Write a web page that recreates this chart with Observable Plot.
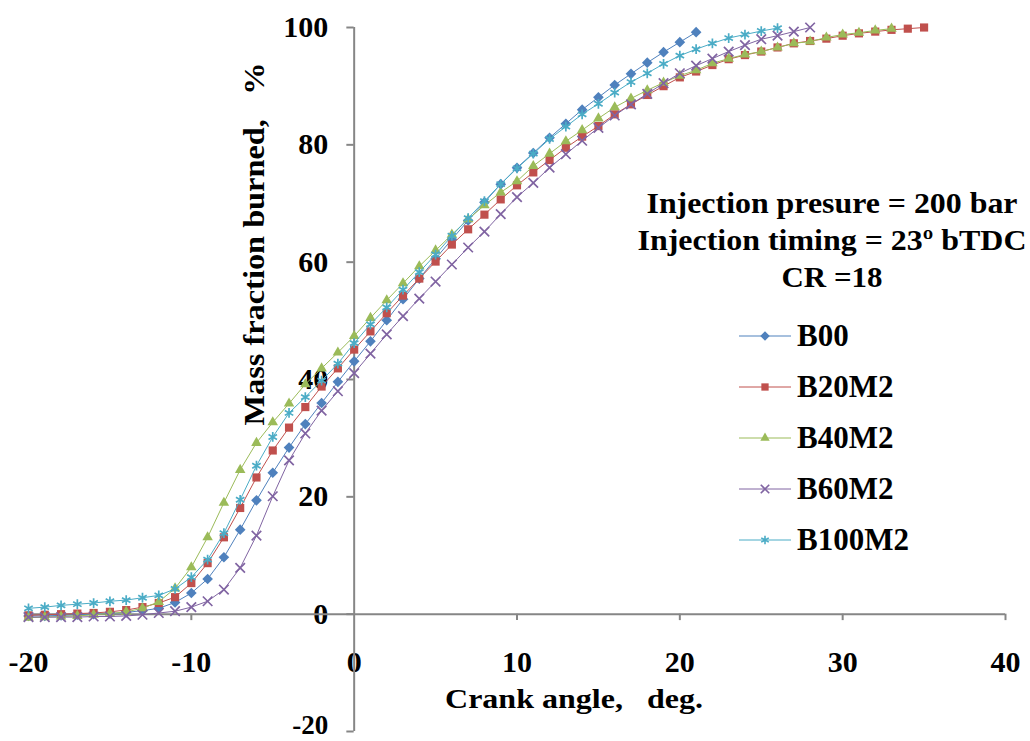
<!DOCTYPE html>
<html>
<head>
<meta charset="utf-8">
<script src="https://cdn.jsdelivr.net/npm/d3@7"></script>
<script src="https://cdn.jsdelivr.net/npm/@observablehq/plot@0.6"></script>
<style>
  body { margin: 0; background: #fff; }
  #wrap { position: relative; width: 1030px; height: 741px; overflow: hidden; }
  #wrap svg { position: absolute; left: 0; top: 0; }
  text { white-space: pre; }
</style>
</head>
<body>
<div id="wrap"></div>
<script>
// ---------------- data ----------------
const seriesNames = ["B00", "B20M2", "B40M2", "B60M2", "B100M2"];
const startAngle = -20; // first crank angle of every series, step 1 deg

const b00 = [-0.3, -0.3, -0.2, -0.1, 0.0, 0.1, 0.3, 0.6, 1.0, 2.0,
  3.6, 6.0, 9.7, 14.4, 19.4, 24.1, 28.4, 32.4, 36.0, 39.6,
  43.1, 46.5, 50.1, 53.7, 57.2, 60.6, 63.9, 67.1, 70.2, 73.3,
  76.1, 78.6, 81.2, 83.6, 86.0, 88.1, 90.2, 92.1, 94.0, 95.8,
  97.5, 99.2];
const b20m2 = [-0.2, -0.1, 0.0, 0.1, 0.2, 0.4, 0.7, 1.2, 1.9, 2.9,
  5.3, 8.7, 13.1, 18.1, 23.3, 27.9, 31.8, 35.3, 38.8, 41.9,
  45.1, 48.2, 51.3, 54.3, 57.2, 60.1, 63.0, 65.6, 68.1, 70.7,
  73.1, 75.3, 77.4, 79.5, 81.4, 83.2, 85.2, 86.9, 88.5, 90.0,
  91.5, 92.5, 93.6, 94.6, 95.3, 95.9, 96.6, 97.3, 97.7, 98.1,
  98.6, 99.0, 99.3, 99.6, 99.8, 100.0];
const b40m2 = [-0.6, -0.5, -0.4, -0.3, -0.1, 0.1, 0.4, 1.0, 2.1, 4.4,
  8.0, 13.1, 19.0, 24.6, 29.2, 32.7, 35.9, 39.2, 41.9, 44.6,
  47.4, 50.5, 53.5, 56.4, 59.3, 62.0, 64.7, 67.3, 69.7, 71.9,
  73.8, 76.4, 78.5, 80.6, 82.5, 84.5, 86.4, 87.9, 89.3, 90.6,
  91.8, 92.7, 93.9, 94.7, 95.4, 95.9, 96.6, 97.3, 97.6, 98.3,
  98.8, 99.1, 99.5, 99.8];
const b60m2 = [-0.5, -0.5, -0.5, -0.5, -0.4, -0.4, -0.3, -0.1, 0.2, 0.5,
  1.2, 2.2, 4.2, 7.9, 13.4, 20.1, 26.2, 30.8, 34.7, 38.0,
  41.1, 44.4, 47.7, 50.8, 53.8, 56.7, 59.6, 62.5, 65.2, 68.2,
  71.1, 73.5, 76.1, 78.4, 80.7, 82.9, 85.0, 86.9, 88.7, 90.5,
  92.2, 93.5, 94.7, 95.9, 97.0, 98.0, 98.6, 99.3, 100.0];
const b100m2 = [1.0, 1.2, 1.5, 1.7, 1.9, 2.2, 2.4, 2.8, 3.2, 4.3,
  6.3, 9.3, 13.8, 19.5, 25.3, 30.2, 34.3, 37.0, 39.8, 42.7,
  46.2, 49.4, 52.3, 55.3, 58.3, 61.3, 64.5, 67.5, 70.4, 73.3,
  76.0, 78.5, 81.0, 83.1, 85.2, 87.0, 88.9, 90.7, 92.2, 93.8,
  95.2, 96.3, 97.3, 98.2, 98.8, 99.4, 99.9];

const xTicks = [-20, -10, 0, 10, 20, 30, 40];
const yTicks = [-20, 0, 20, 40, 60, 80, 100];
const xTitle = "Crank angle,   deg.";
const yTitle = "Mass fraction burned,   %";
const noteLines = ["Injection presure = 200 bar", "Injection timing = 23º bTDC", "CR =18"];

// ---------------- styling ----------------
const colors = ["#4F81BD", "#C0504D", "#9BBB59", "#8064A2", "#4BACC6"];
const symbols = ["diamond2", "square", "triangle", "times", "asterisk"];
const filled = [true, true, true, false, false];
const radii = [4.8, 4.6, 3.9, 4.4, 4.6];
const font = "'Liberation Serif','Times New Roman',serif";
const axisGrey = "#868686";

const allValues = [b00, b20m2, b40m2, b60m2, b100m2];
const rows = seriesNames.flatMap((name, i) =>
  allValues[i].map((v, j) => ({ series: name, angle: startAngle + j, mfb: v })));

const seriesMarks = seriesNames.flatMap((name, i) => {
  const d = rows.filter(r => r.series === name);
  const dotOpts = filled[i]
    ? { fill: colors[i], stroke: "none" }
    : { fill: "none", stroke: colors[i], strokeWidth: 1.7 };
  return [
    Plot.line(d, { x: "angle", y: "mfb", stroke: colors[i], strokeWidth: 1 }),
    Plot.dot(d, { x: "angle", y: "mfb", symbol: () => symbols[i], r: radii[i], ...dotOpts })
  ];
});

const chart = Plot.plot({
  width: 1030, height: 741,
  marginLeft: 28, marginRight: 25, marginTop: 27, marginBottom: 10,
  x: { domain: [-20, 40], axis: null },
  y: { domain: [-20, 100], axis: null },
  symbol: { type: "identity" },
  style: { fontFamily: font, background: "white", overflow: "visible" },
  marks: [
    Plot.text(xTicks, { x: d => d, y: 0, dy: 58, lineAnchor: "bottom", text: d => String(d),
      fontSize: 30, fontWeight: "bold", fill: "#000" }),
    Plot.text(yTicks.filter(d => d > -20), { x: 0, y: d => d, dx: -26, textAnchor: "end", text: d => String(d),
      fontSize: 30, fontWeight: "bold", fill: "#000" }),
    Plot.text(yTicks.filter(d => d === -20), { x: 0, y: d => d, dx: -26, dy: 2, lineAnchor: "bottom", textAnchor: "end", text: d => String(d),
      fontSize: 27, fontWeight: "bold", fill: "#000" }),
    Plot.ruleY([0], { stroke: axisGrey, strokeWidth: 2 }),
    Plot.ruleX([0], { stroke: axisGrey, strokeWidth: 2 }),
    Plot.ruleX(xTicks.filter(d => d !== 0), { x: d => d, y1: 0, y2: -1.1, stroke: axisGrey, strokeWidth: 2 }),
    Plot.ruleY(yTicks, { y: d => d, x1: -0.45, x2: 0, stroke: axisGrey, strokeWidth: 2 }),
    ...seriesMarks
  ]
});

const wrap = document.getElementById("wrap");
wrap.appendChild(chart);

// ---------------- overlay: titles, note, legend ----------------
const ov = d3.select(wrap).append("svg")
  .attr("width", 1030).attr("height", 741)
  .style("pointer-events", "none")
  .attr("font-family", font).attr("font-weight", "bold").attr("fill", "#000");

ov.append("text").attr("x", 574).attr("y", 708).attr("text-anchor", "middle")
  .attr("font-size", 28).attr("textLength", 258).attr("lengthAdjust", "spacingAndGlyphs").text(xTitle);

ov.append("text").attr("transform", "translate(264,244) rotate(-90)")
  .attr("text-anchor", "middle").attr("font-size", 30)
  .attr("textLength", 363).attr("lengthAdjust", "spacingAndGlyphs").text(yTitle);

const noteBase = [213, 250, 287];
const noteWidth = [371, 389, 101];
noteLines.forEach((t, i) => {
  ov.append("text").attr("x", 832).attr("y", noteBase[i]).attr("text-anchor", "middle")
    .attr("font-size", 30).attr("textLength", noteWidth[i]).attr("lengthAdjust", "spacingAndGlyphs").text(t);
});

const legendBase = [346, 397, 448, 499, 550];
const symMap = { diamond2: d3.symbolDiamond2, square: d3.symbolSquare, triangle: d3.symbolTriangle,
                 times: d3.symbolTimes, asterisk: d3.symbolAsterisk };
seriesNames.forEach((name, i) => {
  const cy = legendBase[i] - 10;
  const g = ov.append("g");
  g.append("line").attr("x1", 739).attr("x2", 791).attr("y1", cy).attr("y2", cy)
    .attr("stroke", colors[i]).attr("stroke-width", 1);
  const p = g.append("path")
    .attr("transform", `translate(765,${cy})`)
    .attr("d", d3.symbol(symMap[symbols[i]], Math.PI * radii[i] * radii[i] * 0.8)());
  if (filled[i]) p.attr("fill", colors[i]).attr("stroke", "none");
  else p.attr("fill", "none").attr("stroke", colors[i]).attr("stroke-width", 1.6);
  g.append("text").attr("x", 797).attr("y", legendBase[i]).attr("font-size", 31).text(name);
});
</script>
</body>
</html>
